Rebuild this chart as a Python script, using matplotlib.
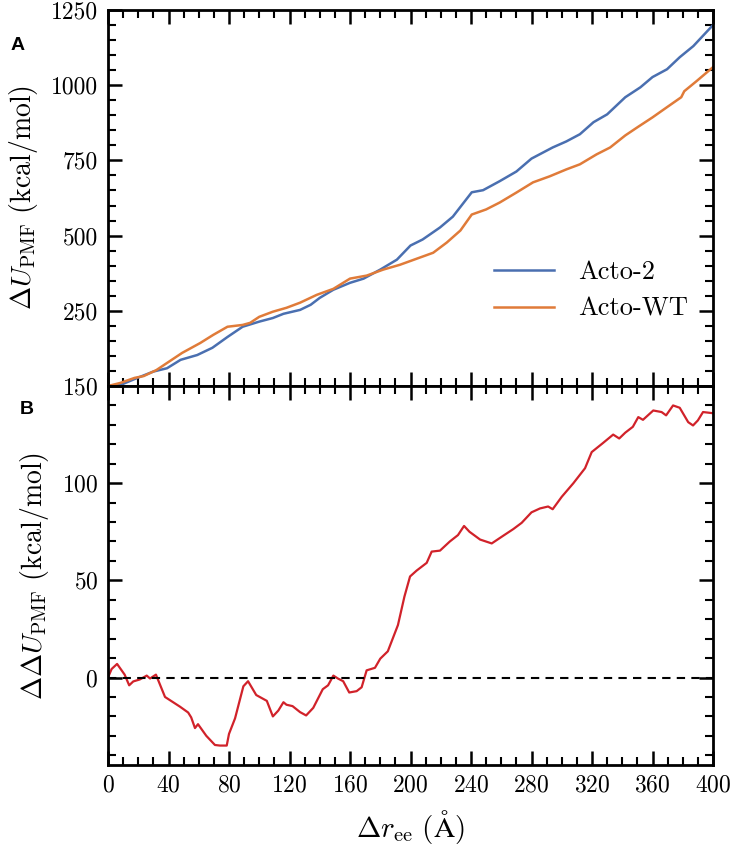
import matplotlib
matplotlib.use("Agg")
import matplotlib.pyplot as plt
from matplotlib.ticker import MultipleLocator, FixedLocator

plt.rcParams['font.family'] = 'serif'
plt.rcParams['font.serif'] = ['cmr10']
plt.rcParams['mathtext.fontset'] = 'cm'
plt.rcParams['axes.formatter.use_mathtext'] = True

# ---- data ----
acto2_x = [0, 8, 19, 30, 39, 48, 59, 69, 79, 89, 100, 109, 116, 127, 134, 140, 149, 160,
           169, 180, 191, 200, 208, 219.5, 228, 240.5, 248, 259, 270, 280, 294, 303, 312,
           321, 330, 342, 352, 360, 369.6, 378, 387, 400]
acto2_y = [0, 3, 26, 48, 59, 87, 103, 127, 163, 197, 214, 226, 240, 253, 270, 293, 320, 343,
           357, 387, 420, 467, 487, 527, 563, 644, 651, 681, 713, 756, 793, 813, 837,
           877, 903, 960, 993, 1027, 1053, 1093, 1130, 1200]

actowt_x = [0, 8, 17.6, 23.6, 32, 49, 61, 69.6, 79, 89, 94, 100, 109, 118, 127, 138, 149,
            160, 171, 182, 193, 204, 215, 224, 233, 240.5, 250, 259, 270, 281, 292, 303,
            312, 323, 332, 342, 350, 360, 369.6, 379, 381, 389, 400]
actowt_y = [0, 10, 27, 33, 53, 110, 143, 170, 197, 203, 210, 230, 247, 260, 277, 303, 323,
            357, 367, 387, 403, 423, 443, 477, 517, 570, 587, 610, 643, 677, 697, 720,
            737, 770, 793, 833, 860, 893, 927, 960, 980, 1013, 1060]

ddu_x = [0, 2.4, 6, 11, 14, 16.7, 21, 25.6, 27.8, 31.7, 33, 37.7, 47.6, 53, 55, 57.5, 59.5,
         65, 70.7, 74, 78.5, 80, 84, 89.5, 92.6, 98, 105, 109, 112.6, 116, 118, 122, 127,
         131, 135.7, 142, 145.5, 149, 152, 155.5, 159.5, 164.4, 167.7, 171, 176.5, 180,
         185, 191.7, 196, 199.7, 204, 210.7, 214, 219.5, 226, 231.4, 235.4, 239, 246,
         253.7, 261, 268, 273.5, 280, 285.6, 291, 294, 300, 307.7, 315.4, 319.8, 327, 334,
         338, 342, 347, 350.6, 353.7, 360.5, 366, 369, 373.6, 378, 383.6, 386.8, 390,
         393.4, 400]
ddu_y = [0, 4.4, 7, 1.5, -4, -2, -1, 1, -0.5, 1.5, -1, -10, -15, -18, -20.5, -26, -24,
         -30, -34.7, -35, -35, -29, -21, -4.5, -1.9, -9, -12, -20, -17, -12.7, -14, -14.7,
         -17.8, -19.5, -15.6, -6, -4, 1, -0.5, -1.9, -7.7, -7, -5, 3.7, 5, 9.7,
         13.5, 27, 41.7, 52, 55, 59, 64.8, 65.3, 70, 73.3, 78, 75, 71,
         69, 72.8, 76.4, 79.6, 85, 87, 88, 86.6, 93, 100, 107.7, 116, 120.5, 125,
         123, 126, 129, 134, 132.6, 137.4, 136.6, 134.9, 140, 138.8, 131.4, 129.7, 132.3,
         136.6, 136]

series_names = ['Acto-2', 'Acto-WT']
colors = ['#4a6fb0', '#e07b39']
red = '#d1222a'

W, H = 733, 847
fig = plt.figure(figsize=(W / 100, H / 100), dpi=100)
left, right = 108 / W, 713 / W
top_y0, top_y1 = 1 - 386 / H, 1 - 10 / H
bot_y0 = 1 - 765 / H
ax1 = fig.add_axes([left, top_y0, right - left, top_y1 - top_y0])
ax2 = fig.add_axes([left, bot_y0, right - left, top_y0 - bot_y0], sharex=ax1)

ax1.plot(acto2_x, acto2_y, color=colors[0], lw=1.8, label=series_names[0])
ax1.plot(actowt_x, actowt_y, color=colors[1], lw=1.8, label=series_names[1])
ax1.set_ylim(0, 1250)
ax1.set_xlim(0, 400)
ax1.yaxis.set_major_locator(FixedLocator([0, 250, 500, 750, 1000, 1250]))
ax1.set_yticklabels(['', '250', '500', '750', '1000', '1250'])
ax1.yaxis.set_minor_locator(MultipleLocator(50))
ax1.tick_params(labelbottom=False)
ax1.set_ylabel(r'$\Delta U_{\mathrm{PMF}}$ (kcal/mol)', fontsize=20, labelpad=8)
leg = ax1.legend(loc='lower right', bbox_to_anchor=(0.998, 0.11), frameon=False,
                 fontsize=19, handlelength=2.3, handletextpad=0.9, labelspacing=0.5)

ax2.plot(ddu_x, ddu_y, color=red, lw=1.6)
ax2.axhline(0, color='black', lw=1.5, ls=(0, (4, 3)))
ax2.set_ylim(-45, 150)
ax2.yaxis.set_major_locator(FixedLocator([0, 50, 100, 150]))
ax2.yaxis.set_minor_locator(MultipleLocator(10))
ax2.xaxis.set_major_locator(MultipleLocator(40))
ax2.xaxis.set_minor_locator(MultipleLocator(10))
ax2.set_xlim(0, 400)
ax2.set_ylabel(r'$\Delta\Delta U_{\mathrm{PMF}}$ (kcal/mol)', fontsize=20, labelpad=8)
ax2.set_xlabel(r'$\Delta r_{\mathrm{ee}}\ (\mathrm{\AA})$', fontsize=21, labelpad=8)

for ax in (ax1, ax2):
    for s in ax.spines.values():
        s.set_linewidth(2)
    ax.tick_params(which='both', direction='in', top=True, right=True, labelsize=17, pad=7)
    ax.tick_params(which='major', length=10, width=1.8)
    ax.tick_params(which='minor', length=6, width=1.5)

fig.text(11 / W, 1 - 46 / H, 'A', fontsize=14, fontweight='bold', family='Liberation Sans', va='center')
fig.text(20 / W, 1 - 409 / H, 'B', fontsize=14, fontweight='bold', family='Liberation Sans', va='center')

fig.savefig('out.png', dpi=100)
